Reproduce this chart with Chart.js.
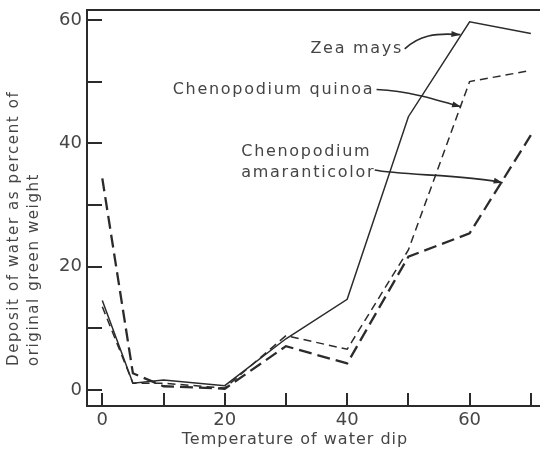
<!DOCTYPE html>
<html>
<head>
<meta charset="utf-8">
<script src="https://cdn.jsdelivr.net/npm/chart.js@4"></script>
<style>
  html, body { margin: 0; padding: 0; background: #fff; }
  #wrap { width: 540px; height: 460px; }
</style>
</head>
<body>
<div id="wrap"><canvas id="chart" width="540" height="460"></canvas></div>
<script>
// water dip temperature (x) and water deposit, % of original green weight (y)
const temps = [0, 5, 10, 20, 30, 40, 50, 60, 70];
const zeaMays = [14.5, 1.1, 1.6, 0.7, 8.3, 14.7, 44.3, 59.7, 57.8];
const quinoa = [13.5, 1.1, 1.1, 0.3, 8.8, 6.6, 22.7, 50.0, 51.8];
const amaranticolor = [34.3, 2.7, 0.6, 0.2, 7.1, 4.3, 21.6, 25.4, 41.3];

const xTickLabels = [0, 20, 40, 60];
const yTickLabels = [0, 20, 40, 60];

const xTitle = 'Temperature of water dip';
const yTitle = ['Deposit of water as percent of', 'original green weight'];

// labels with arrows, placed in data units
const notes = [
  { lines: ['Zea mays'], at: [34.0, 55.3],
    arrow: [[49.4, 55.3], [51.8, 57.5], [54.3, 57.9], [58.5, 57.6]] },
  { lines: ['Chenopodium quinoa'], at: [11.5, 48.6],
    arrow: [[44.8, 48.7], [50.0, 48.4], [53.5, 47.4], [58.6, 45.9]] },
  { lines: ['Chenopodium', 'amaranticolor'], at: [22.7, 38.6],
    arrow: [[44.5, 35.65], [48.5, 34.8], [60.0, 34.9], [65.4, 33.6]] }
];

const INK = '#2b2b2b';
const TEXT = '#454545';
const FONT = "'DejaVu Sans', sans-serif";

Chart.defaults.font.family = FONT;
Chart.defaults.color = TEXT;

function toPoints(ys) {
  return temps.map((t, i) => ({ x: t, y: ys[i] }));
}

const framePlugin = {
  id: 'frame',
  afterDraw(chart) {
    const { ctx, chartArea: a, scales: { x, y } } = chart;
    const px = v => x.getPixelForValue(v);
    const py = v => y.getPixelForValue(v);
    ctx.save();
    ctx.strokeStyle = INK;
    ctx.fillStyle = INK;
    ctx.lineWidth = 2;

    // top edge of the frame
    ctx.beginPath();
    ctx.moveTo(a.left - 1, a.top);
    ctx.lineTo(a.right, a.top);
    ctx.stroke();

    // tick marks point into the plot
    y.ticks.forEach(t => {
      const yy = Math.round(py(t.value));
      ctx.beginPath();
      ctx.moveTo(a.left, yy);
      ctx.lineTo(a.left + 15, yy);
      ctx.stroke();
    });
    x.ticks.forEach(t => {
      const xx = Math.round(px(t.value));
      ctx.beginPath();
      ctx.moveTo(xx, a.bottom);
      ctx.lineTo(xx, a.bottom - 13);
      ctx.stroke();
    });

    // notes and arrows
    ctx.fillStyle = TEXT;
    ctx.font = '16px ' + FONT;
    ctx.letterSpacing = '1.7px';
    ctx.textBaseline = 'middle';
    ctx.textAlign = 'left';
    notes.forEach(n => {
      n.lines.forEach((s, i) => {
        ctx.fillText(s, px(n.at[0]), py(n.at[1]) + i * 21);
      });
      const p = n.arrow.map(q => [px(q[0]), py(q[1])]);
      ctx.lineWidth = 1.6;
      ctx.beginPath();
      ctx.moveTo(p[0][0], p[0][1]);
      ctx.bezierCurveTo(p[1][0], p[1][1], p[2][0], p[2][1], p[3][0], p[3][1]);
      ctx.stroke();
      const ang = Math.atan2(p[3][1] - p[2][1], p[3][0] - p[2][0]);
      ctx.save();
      ctx.fillStyle = INK;
      ctx.translate(p[3][0], p[3][1]);
      ctx.rotate(ang);
      ctx.beginPath();
      ctx.moveTo(0, 0);
      ctx.lineTo(-9, -3);
      ctx.lineTo(-9, 3);
      ctx.closePath();
      ctx.fill();
      ctx.restore();
    });

    // axis titles
    ctx.letterSpacing = '1px';
    ctx.textAlign = 'center';
    ctx.fillText(xTitle, 295, a.bottom + 34);

    ctx.font = '15px ' + FONT;
    ctx.letterSpacing = '1.6px';
    ctx.textAlign = 'left';
    ctx.translate(0, 366);
    ctx.rotate(-Math.PI / 2);
    yTitle.forEach((s, i) => ctx.fillText(s, 0, 14 + i * 20));
    ctx.restore();
  }
};

new Chart(document.getElementById('chart'), {
  type: 'line',
  data: {
    datasets: [
      {
        label: 'Zea mays',
        data: toPoints(zeaMays),
        borderColor: INK,
        borderWidth: 1.5
      },
      {
        label: 'Chenopodium quinoa',
        data: toPoints(quinoa),
        borderColor: INK,
        borderWidth: 1.5,
        borderDash: [8, 5]
      },
      {
        label: 'Chenopodium amaranticolor',
        data: toPoints(amaranticolor),
        borderColor: INK,
        borderWidth: 2.3,
        borderDash: [13, 6]
      }
    ]
  },
  options: {
    responsive: false,
    animation: false,
    events: [],
    elements: { point: { radius: 0 }, line: { tension: 0, fill: false } },
    layout: { padding: { top: 10, right: 0, left: 0, bottom: 0 } },
    plugins: { legend: { display: false }, tooltip: { enabled: false } },
    scales: {
      x: {
        type: 'linear',
        min: -2.5,
        max: 71.5,
        grid: { display: false, drawTicks: false },
        border: { display: true, color: INK, width: 2 },
        afterFit: s => { s.height = 54; s.paddingLeft = 0; s.paddingRight = 0; },
        ticks: {
          stepSize: 10,
          includeBounds: false,
          autoSkip: false,
          maxRotation: 0,
          padding: 4,
          color: TEXT,
          font: { size: 18 },
          callback: v => xTickLabels.includes(v) ? String(v) : ''
        }
      },
      y: {
        min: -2.6,
        max: 61.6,
        grid: { display: false, drawTicks: false },
        border: { display: true, color: INK, width: 2 },
        afterFit: s => { s.width = 87; s.paddingTop = 0; s.paddingBottom = 0; },
        ticks: {
          stepSize: 10,
          includeBounds: false,
          autoSkip: false,
          padding: 5,
          color: TEXT,
          font: { size: 18 },
          callback: v => yTickLabels.includes(v) ? String(v) : ''
        }
      }
    }
  },
  plugins: [framePlugin]
});
</script>
</body>
</html>
